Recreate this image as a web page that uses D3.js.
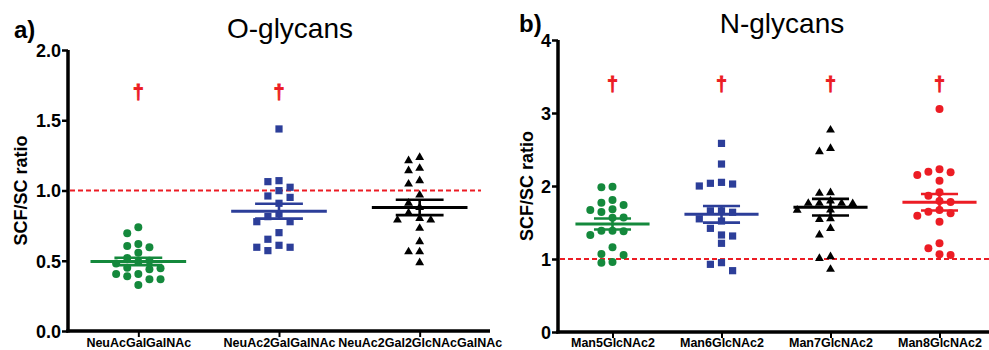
<!DOCTYPE html>
<html>
<head>
<meta charset="utf-8">
<script src="https://cdn.jsdelivr.net/npm/d3@7"></script>
<style>
    html, body {margin: 0; padding: 0; background: #fff;}
    svg {display: block; font-family: 'Liberation Sans', Arial, sans-serif;}
    .axis line {stroke: #000;}
    .axis text {fill: #000; font-weight: bold;}
</style>
</head>
<body>
<div id="chart"></div>
<script>
// O-glycans (panel a)
const oGlycanNames = ['NeuAcGalGalNAc', 'NeuAc2GalGalNAc', 'NeuAc2Gal2GlcNAcGalNAc']
const neuAcGalGalNAc = [0.738, 0.695, 0.619, 0.605, 0.596, 0.557, 0.52, 0.493, 0.50, 0.48,
    0.446, 0.45, 0.44, 0.406, 0.406, 0.39, 0.368, 0.368, 0.327]
const neuAc2GalGalNAc = [1.438, 1.063, 1.070, 1.023, 0.999, 0.951, 0.961, 0.909, 0.833,
    0.814, 0.778, 0.778, 0.70, 0.653, 0.596, 0.572, 0.596, 0.610]
const neuAc2Gal2GlcNAcGalNAc = [1.236, 1.212, 1.141, 1.158, 1.070, 1.046, 0.968, 0.91, 0.880,
    0.84, 0.790, 0.790, 0.802, 0.731, 0.636, 0.564, 0.564, 0.486]
const oTicks = [0, 0.5, 1.0, 1.5, 2.0]
const oDaggers = [true, true, false]
const oDaggerValue = 1.7

// N-glycans (panel b)
const nGlycanNames = ['Man5GlcNAc2', 'Man6GlcNAc2', 'Man7GlcNAc2', 'Man8GlcNAc2']
const man5GlcNAc2 = [1.991, 1.982, 1.808, 1.740, 1.772, 1.671, 1.680, 1.644, 1.566, 1.57,
    1.388, 1.38, 1.388, 1.329, 1.160, 1.055, 1.068, 0.950, 0.959]
const man6GlcNAc2 = [2.584, 2.301, 2.037, 2.0, 2.027, 2.05, 1.66, 1.64, 1.66, 1.55, 1.52,
    1.42, 1.315, 1.329, 1.215, 0.95, 0.927, 0.84]
const man7GlcNAc2 = [2.767, 2.47, 2.516, 1.908, 1.9, 1.795, 1.763, 1.76, 1.763, 1.763, 1.67,
    1.671, 1.553, 1.543, 1.42, 1.329, 1.032, 1.009, 0.859]
const man8GlcNAc2 = [3.055, 2.196, 2.151, 2.073, 2.187, 2.228, 1.913, 1.867, 1.795, 1.78,
    1.626, 1.671, 1.593, 1.648, 1.511, 1.146, 1.215, 1.055, 1.064]
const nTicks = [0, 1, 2, 3, 4]
const nDaggers = [true, true, true, true]
const nDaggerValue = 3.4

const referenceRatio = 1

const GREEN = '#14893c', BLUE = '#2c3e99', BLACK = '#000', RED = '#ec1c24'
const FONT = "'Liberation Sans', Arial, sans-serif"

const svg = d3.select('#chart').append('svg')
    .attr('width', 989)
    .attr('height', 350)

// simple prism-like swarm: points go into fixed columns around the centre
function swarmOffsets(values, y, step, gap) {
    let order = values.map((v, i) => i).sort((a, b) => values[b] - values[a])
    let placed = []
    let out = []
    order.forEach(i => {
        let py = y(values[i])
        for (let k = 0; k < 20; k++) {
            let col = k === 0 ? 0 : (k % 2 ? -Math.ceil(k / 2) : Math.ceil(k / 2))
            let hit = placed.some(p => p.col === col && Math.abs(p.y - py) < gap)
            if (!hit) {
                placed.push({col: col, y: py})
                out[i] = col * step
                break
            }
        }
    })
    return out
}

function drawPanel(o) {
    let g = svg.append('g')
    let x = d3.scalePoint().domain(o.names).range(o.xRange).padding(0.5)
    let y = d3.scaleLinear().domain(o.yDomain).range(o.yRange)
    let step = x.step()

    // reference line
    g.append('line')
        .attr('x1', o.xRange[0] + 2).attr('x2', o.dashEnd)
        .attr('y1', y(referenceRatio)).attr('y2', y(referenceRatio))
        .attr('stroke', RED)
        .attr('stroke-width', 1.8)
        .attr('stroke-dasharray', '5,3')

    o.series.forEach((vals, i) => {
        let cx = x(o.names[i])
        let color = o.colors[i]
        let offs = swarmOffsets(vals, y, 11.1, 8.2)
        let sym = d3.symbol().type(o.symbols[i]).size(o.symbols[i] === d3.symbolTriangle ? 34 : (o.symbols[i] === d3.symbolSquare ? 52 : 50))

        g.append('g').selectAll('path')
            .data(vals)
            .enter()
            .append('path')
            .attr('d', sym)
            .attr('fill', color)
            .attr('transform', (d, j) => `translate(${cx + offs[j]},${y(d)})`)

        let mean = d3.mean(vals)
        let sem = d3.deviation(vals) / Math.sqrt(vals.length)
        let mw = step * 0.34, sw = step * 0.17
        let lines = [
            [cx - mw, cx + mw, mean, mean, 3],
            [cx - sw, cx + sw, mean + sem, mean + sem, 2.6],
            [cx - sw, cx + sw, mean - sem, mean - sem, 2.6],
            [cx, cx, mean + sem, mean - sem, 2.6]
        ]
        g.append('g').selectAll('line')
            .data(lines)
            .enter()
            .append('line')
            .attr('x1', d => d[0]).attr('x2', d => d[1])
            .attr('y1', d => y(d[2])).attr('y2', d => y(d[3]))
            .attr('stroke', color)
            .style('stroke-width', d => d[4] + 'px')

        if (o.daggers[i]) {
            g.append('text')
                .attr('x', cx)
                .attr('y', y(o.daggerValue) + 7)
                .attr('text-anchor', 'middle')
                .attr('fill', RED)
                .attr('stroke', RED)
                .attr('stroke-width', 0.8)
                .style('font-family', FONT)
                .style('font-size', '20px')
                .style('font-weight', 'bold')
                .text('\u2020')
        }
    })

    let yAxis = g.append('g')
        .attr('class', 'axis')
        .attr('transform', `translate(${o.xRange[0]},0)`)
        .call(d3.axisLeft(y).tickValues(o.ticks).tickFormat(o.fmt).tickSize(6).tickSizeOuter(0).tickPadding(1))
        .attr('font-family', FONT)
    yAxis.select('.domain').remove()
    yAxis.selectAll('.tick line').style('stroke-width', '2.5px')
    yAxis.selectAll('.tick text').style('font-size', '18px').attr('dy', '0.36em')

    let xAxis = g.append('g')
        .attr('class', 'axis')
        .attr('transform', `translate(0,${o.yRange[0]})`)
        .call(d3.axisBottom(x).tickSize(6).tickSizeOuter(0))
        .attr('font-family', FONT)
    xAxis.select('.domain').remove()
    xAxis.selectAll('.tick line').style('stroke-width', '2px')
    xAxis.selectAll('.tick text')
        .style('font-size', '12.5px')
        .attr('y', 347 - o.yRange[0])
        .attr('dy', null)

    // heavy axis lines
    g.append('line')
        .attr('x1', o.xRange[0]).attr('x2', o.xRange[0])
        .attr('y1', o.yRange[1]).attr('y2', o.yRange[0] + 1.5)
        .attr('stroke', '#000')
        .style('stroke-width', '3.5px')
    g.append('line')
        .attr('x1', o.xRange[0] - 1.75).attr('x2', o.axisEnd)
        .attr('y1', o.yRange[0]).attr('y2', o.yRange[0])
        .attr('stroke', '#000')
        .style('stroke-width', '3.5px')

    g.append('text')
        .attr('transform', `translate(${o.yTitleX},${(o.yRange[0] + o.yRange[1]) / 2}) rotate(-90)`)
        .attr('text-anchor', 'middle')
        .attr('dy', '0.35em')
        .style('font-size', '18px')
        .style('font-weight', 'bold')
        .text('SCF/SC ratio')

    g.append('text')
        .attr('x', o.titleX).attr('y', o.titleY)
        .attr('text-anchor', 'middle')
        .style('font-size', '28px')
        .text(o.title)

    g.append('text')
        .attr('x', o.letterX).attr('y', o.letterY)
        .style('font-size', '24px')
        .style('font-weight', 'bold')
        .text(o.letter)
}

drawPanel({
    names: oGlycanNames,
    series: [neuAcGalGalNAc, neuAc2GalGalNAc, neuAc2Gal2GlcNAcGalNAc],
    colors: [GREEN, BLUE, BLACK],
    symbols: [d3.symbolCircle, d3.symbolSquare, d3.symbolTriangle],
    daggers: oDaggers,
    daggerValue: oDaggerValue,
    ticks: oTicks,
    fmt: d3.format('.1f'),
    yDomain: [0, 2],
    xRange: [68, 490],
    yRange: [331, 50],
    dashEnd: 481,
    axisEnd: 490,
    yTitleX: 21,
    title: 'O-glycans',
    titleX: 290,
    titleY: 38,
    letter: 'a)',
    letterX: 14,
    letterY: 38
})

drawPanel({
    names: nGlycanNames,
    series: [man5GlcNAc2, man6GlcNAc2, man7GlcNAc2, man8GlcNAc2],
    colors: [GREEN, BLUE, BLACK, RED],
    symbols: [d3.symbolCircle, d3.symbolSquare, d3.symbolTriangle, d3.symbolCircle],
    daggers: nDaggers,
    daggerValue: nDaggerValue,
    ticks: nTicks,
    fmt: d3.format('d'),
    yDomain: [0, 4],
    xRange: [558, 994],
    yRange: [332, 40],
    dashEnd: 989,
    axisEnd: 989,
    yTitleX: 527,
    title: 'N-glycans',
    titleX: 782,
    titleY: 33,
    letter: 'b)',
    letterX: 519,
    letterY: 32
})
</script>
</body>
</html>
